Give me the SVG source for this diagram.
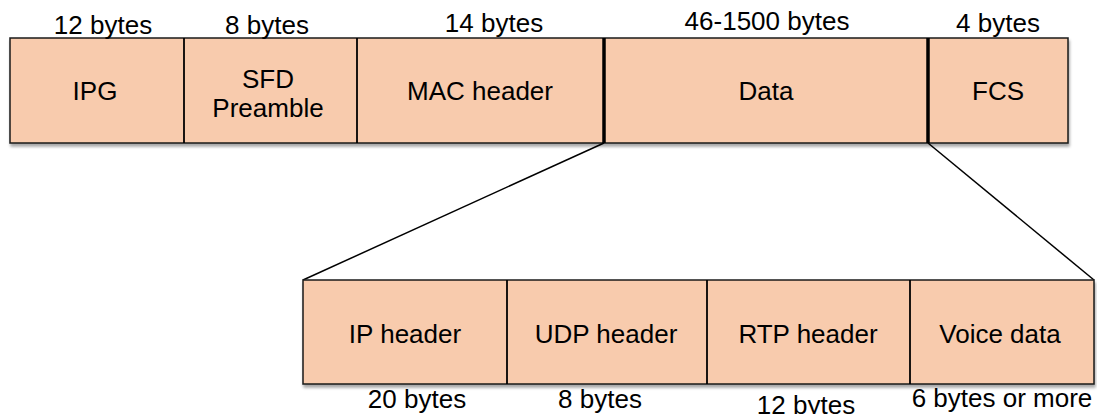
<svg xmlns="http://www.w3.org/2000/svg" width="1097" height="414" viewBox="0 0 1097 414">
<defs>
<filter id="sh" x="-5%" y="-10%" width="110%" height="130%">
<feGaussianBlur in="SourceAlpha" stdDeviation="1.5"/>
<feOffset dx="1" dy="3" result="b"/>
<feComponentTransfer><feFuncA type="linear" slope="0.35"/></feComponentTransfer>
<feMerge><feMergeNode/><feMergeNode in="SourceGraphic"/></feMerge>
</filter>
</defs>
<style>
.box{fill:#F8CBAD;stroke:#1a1a1a;stroke-width:1.5}
.div{stroke:#000;stroke-width:1.8}
.thick{stroke:#000;stroke-width:3.5}
.t{font-family:"Liberation Sans",Arial,sans-serif;font-size:26px;fill:#000;text-anchor:middle}
.conn{stroke:#000;stroke-width:1.5;fill:none}
</style>
<rect width="1097" height="414" fill="#fff"/>
<g id="frame">
<rect class="box" x="10" y="38" width="1058" height="105" filter="url(#sh)"/>
</g>
<g id="ipg"><text class="t" x="103" y="34">12 bytes</text><text class="t" x="95" y="100">IPG</text></g>
<g id="sfd"><line class="div" x1="184" y1="38" x2="184" y2="143"/><text class="t" x="267" y="34">8 bytes</text><text class="t" x="268" y="88">SFD</text><text class="t" x="268" y="117">Preamble</text></g>
<g id="mac"><line class="div" x1="357" y1="38" x2="357" y2="143"/><text class="t" x="494" y="32">14 bytes</text><text class="t" x="480" y="100">MAC header</text></g>
<g id="data"><line class="thick" x1="604" y1="38" x2="604" y2="143"/><text class="t" x="767" y="30">46-1500 bytes</text><text class="t" x="766" y="100">Data</text></g>
<g id="fcs"><line class="thick" x1="928" y1="38" x2="928" y2="143"/><text class="t" x="998" y="32">4 bytes</text><text class="t" x="998" y="100">FCS</text></g>
<g id="connectors">
<line class="conn" x1="604" y1="143" x2="303" y2="280"/>
<line class="conn" x1="928" y1="143" x2="1094" y2="280"/>
</g>
<g id="payload">
<rect class="box" x="303" y="280" width="791" height="104" filter="url(#sh)"/>
</g>
<g id="ip"><text class="t" x="405" y="343">IP header</text><text class="t" x="417" y="408">20 bytes</text></g>
<g id="udp"><line class="div" x1="507" y1="280" x2="507" y2="384"/><text class="t" x="606" y="343">UDP header</text><text class="t" x="600" y="408">8 bytes</text></g>
<g id="rtp"><line class="div" x1="707" y1="280" x2="707" y2="384"/><text class="t" x="808" y="343">RTP header</text><text class="t" x="806" y="414">12 bytes</text></g>
<g id="voice"><line class="div" x1="910" y1="280" x2="910" y2="384"/><text class="t" x="1002" y="407">6 bytes or more</text><text class="t" x="1000" y="343">Voice data</text></g>
</svg>
